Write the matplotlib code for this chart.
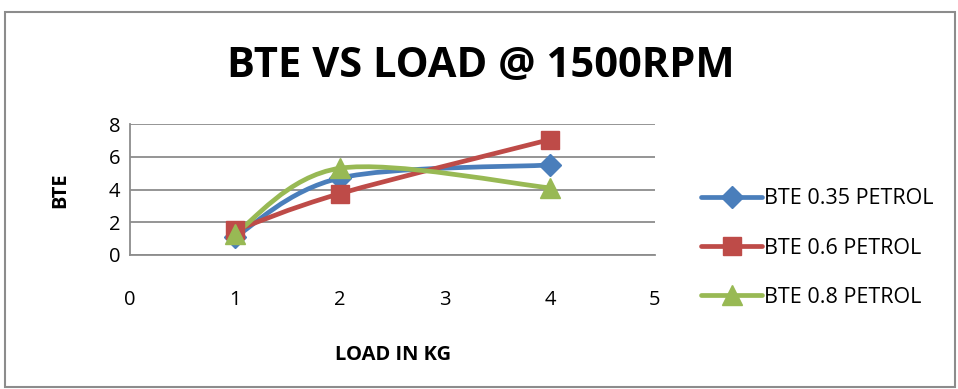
import matplotlib
matplotlib.use("Agg")
import matplotlib.pyplot as plt
from matplotlib.path import Path
from matplotlib.patches import PathPatch, Rectangle
from matplotlib.lines import Line2D

# data
load_kg = [1, 2, 4]
bte_035 = [1.1, 4.7, 5.5]
bte_06 = [1.5, 3.75, 7.05]
bte_08 = [1.3, 5.3, 4.1]
series_labels = ["BTE 0.35 PETROL", "BTE 0.6 PETROL", "BTE 0.8 PETROL"]

colors = ["#4A7EBB", "#BE4B48", "#98B954"]
markers = ["D", "s", "^"]
msizes = [11, 13, 14]

FONT = ["Open Sans", "DejaVu Sans"]


def smooth_path(xs, ys):
    """Excel-like smoothed line: Catmull-Rom segments as cubic Beziers."""
    pts = list(zip(xs, ys))
    n = len(pts)
    verts = [pts[0]]
    codes = [Path.MOVETO]
    for i in range(n - 1):
        p0 = pts[i - 1] if i > 0 else pts[i]
        p1 = pts[i]
        p2 = pts[i + 1]
        p3 = pts[i + 2] if i + 2 < n else pts[i + 1]
        c1 = (p1[0] + (p2[0] - p0[0]) / 6, p1[1] + (p2[1] - p0[1]) / 6)
        c2 = (p2[0] - (p3[0] - p1[0]) / 6, p2[1] - (p3[1] - p1[1]) / 6)
        verts += [c1, c2, p2]
        codes += [Path.CURVE4] * 3
    return Path(verts, codes)


fig = plt.figure(figsize=(9.58, 3.89), dpi=100)
fig.patches.append(Rectangle((5 / 958, 2 / 389), 950 / 958, 375 / 389,
                             transform=fig.transFigure, fill=False,
                             edgecolor="#8c8c8c", linewidth=1.5))

ax = fig.add_axes([130 / 958, 134 / 389, 525 / 958, 131 / 389])

handles = []
for ys, c, m, ms, lab in zip([bte_035, bte_06, bte_08], colors, markers, msizes, series_labels):
    ax.add_patch(PathPatch(smooth_path(load_kg, ys), facecolor="none",
                           edgecolor=c, linewidth=3.4, capstyle="round", zorder=3))
    ax.plot(load_kg, ys, linestyle="none", marker=m, markersize=ms, color=c, zorder=4)
    handles.append(Line2D([], [], color=c, linewidth=3.4, marker=m, markersize=ms,
                          solid_capstyle="round", label=lab))

ax.set_xlim(0, 5)
ax.set_ylim(0, 8)
ax.set_xticks(range(0, 6))
ax.set_yticks(range(0, 9, 2))
ax.yaxis.grid(True, color="#8c8c8c", linewidth=1.3)
ax.set_axisbelow(True)
for s in ["top", "right"]:
    ax.spines[s].set_visible(False)
for s in ["left", "bottom"]:
    ax.spines[s].set_color("#8c8c8c")
    ax.spines[s].set_linewidth(1.3)
ax.tick_params(length=0, labelsize=14.5)
ax.tick_params(axis="x", pad=25)
ax.tick_params(axis="y", pad=7)
for t in ax.get_xticklabels() + ax.get_yticklabels():
    t.set_family(FONT)

fig.text(481 / 958, 1 - 67 / 389, "BTE VS LOAD @ 1500RPM", ha="center", va="center",
         fontsize=30, fontweight="bold", family=FONT)
fig.text(60 / 958, 1 - 190 / 389, "BTE", ha="center", va="center", rotation=90,
         fontsize=14.5, fontweight="bold", family=FONT)
fig.text(393 / 958, 1 - 355 / 389, "LOAD IN KG", ha="center", va="center",
         fontsize=14.5, fontweight="bold", family=FONT)

fig.legend(handles=handles, loc="center left", bbox_to_anchor=(682 / 958, 1 - 248 / 389),
           frameon=False, handlelength=2.8, handletextpad=0.1, labelspacing=1.32,
           prop={"family": FONT, "size": 15.5})

fig.savefig("out.png", dpi=100)
